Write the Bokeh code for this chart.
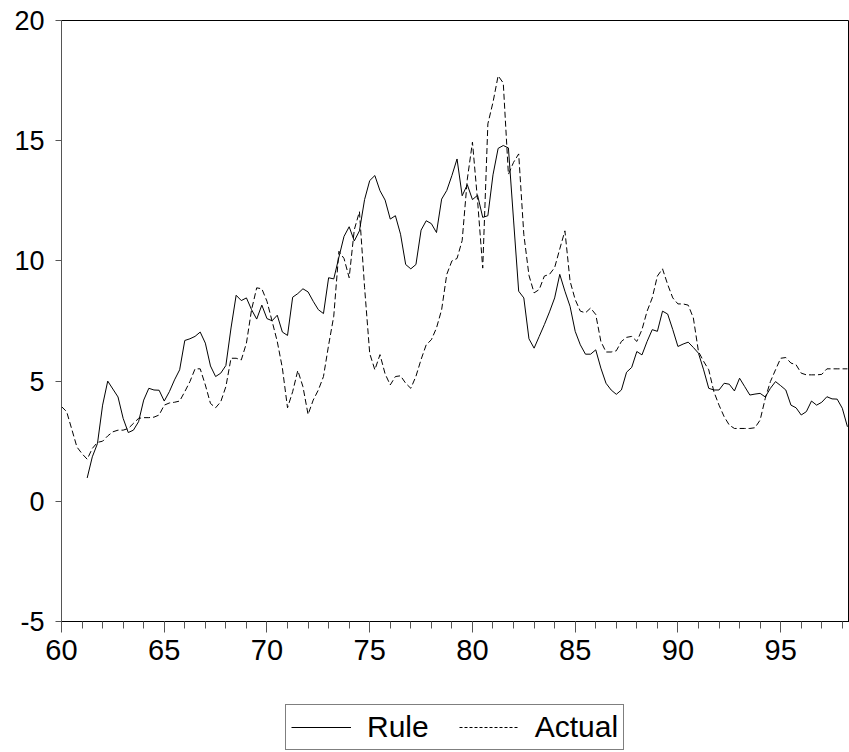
import numpy as np
from bokeh.plotting import figure
from bokeh.layouts import column
from bokeh.models import ColumnDataSource, FixedTicker, Legend, LegendItem, Range1d
from bokeh.embed import file_html
from bokeh.resources import INLINE

# Quarterly observations, 1960Q1 .. 1998Q2
start_year = 60
n_quarters = 154

rule = [None, None, None, None, None,
        0.97, 1.85, 2.40, 4.00, 5.00, 4.67, 4.34, 3.45, 2.86, 2.96,
        3.31, 4.21, 4.70, 4.63, 4.62, 4.17, 4.56, 5.05, 5.47, 6.69,
        6.76, 6.86, 7.04, 6.58, 5.63, 5.19, 5.33, 5.65, 7.21, 8.57,
        8.35, 8.46, 7.97, 7.58, 8.16, 7.60, 7.51, 7.74, 7.04, 6.90,
        8.49, 8.64, 8.84, 8.71, 8.32, 7.97, 7.81, 9.30, 9.25, 10.15,
        11.02, 11.42, 10.83, 11.25, 12.55, 13.34, 13.55, 12.92, 12.53, 11.74,
        11.88, 11.11, 9.85, 9.67, 9.85, 11.28, 11.67, 11.55, 11.18, 12.57,
        12.93, 13.55, 14.24, 12.71, 13.17, 12.55, 12.73, 11.81, 11.88, 13.58,
        14.68, 14.80, 14.70, 11.70, 8.74, 8.46, 6.76, 6.37, 6.86, 7.35,
        7.88, 8.46, 9.44, 8.74, 8.11, 7.07, 6.51, 6.12, 6.12, 6.30,
        5.54, 4.91, 4.63, 4.45, 4.63, 5.37, 5.57, 6.23, 6.09, 6.65,
        7.14, 7.07, 7.91, 7.79, 7.14, 6.44, 6.54, 6.62, 6.40, 6.16,
        5.47, 4.70, 4.63, 4.63, 4.91, 4.87, 4.59, 5.12, 4.77, 4.42,
        4.46, 4.49, 4.34, 4.70, 4.98, 4.81, 4.63, 4.00, 3.89, 3.59,
        3.73, 4.17, 4.00, 4.12, 4.35, 4.26, 4.25, 3.87, 3.10]

actual = [3.94, 3.73, 3.00, 2.26, 1.98, 1.75, 2.20, 2.45, 2.50, 2.72,
          2.89, 2.96, 2.96, 3.03, 3.24, 3.45, 3.48, 3.48, 3.50, 3.59,
          4.00, 4.09, 4.12, 4.17, 4.56, 4.98, 5.51, 5.51, 4.84, 4.07,
          3.89, 4.14, 4.77, 5.95, 5.95, 5.88, 6.58, 7.97, 8.88, 8.84,
          8.32, 7.49, 6.65, 5.54, 3.89, 4.56, 5.44, 4.77, 3.61, 4.21,
          4.63, 5.19, 6.50, 7.70, 10.40, 10.10, 9.30, 11.30, 12.05, 8.90,
          6.15, 5.47, 6.10, 5.30, 4.84, 5.19, 5.22, 4.91, 4.70, 5.20,
          5.90, 6.51, 6.72, 7.21, 7.97, 9.44, 10.00, 10.10, 10.85, 13.40,
          14.94, 12.50, 9.70, 15.70, 16.60, 17.70, 17.40, 13.60, 14.10, 14.45,
          11.10, 9.40, 8.67, 8.81, 9.37, 9.44, 9.72, 10.50, 11.25, 9.16,
          8.39, 7.91, 7.84, 8.04, 7.77, 6.65, 6.21, 6.21, 6.26, 6.65,
          6.82, 6.86, 6.65, 7.14, 7.91, 8.46, 9.37, 9.67, 9.02, 8.46,
          8.21, 8.21, 8.16, 7.63, 6.23, 5.82, 5.47, 4.56, 4.00, 3.52,
          3.17, 3.03, 3.03, 3.03, 3.03, 3.06, 3.38, 4.28, 4.98, 5.47,
          5.95, 5.98, 5.75, 5.68, 5.33, 5.26, 5.26, 5.26, 5.28, 5.51,
          5.51, 5.51, 5.51, 5.51]

series_names = ["Rule", "Actual"]
x_major_ticks = [60, 65, 70, 75, 80, 85, 90, 95]
y_major_ticks = [-5, 0, 5, 10, 15, 20]
y_tick_labels = {-5: "-5", 0: "0", 5: "5", 10: "10", 15: "15", 20: "20"}

xs = [start_year + i / 4.0 for i in range(n_quarters)]
src = ColumnDataSource(dict(
    x=xs,
    rule=[np.nan if v is None else v for v in rule],
    actual=actual,
))

FONT = "Liberation Sans"
DASH = "6 3"

# ---------------- main chart ----------------
p = figure(width=849, height=690, output_backend="svg", toolbar_location=None,
           x_range=Range1d(60, 98.35), y_range=Range1d(-5, 20),
           min_border_left=61, min_border_right=0, min_border_top=20,
           min_border_bottom=69)
p.background_fill_color = "white"
p.border_fill_color = "white"
p.outline_line_color = "black"
p.outline_line_width = 1
p.grid.visible = False

p.line("x", "rule", source=src, line_color="black", line_width=1)
p.line("x", "actual", source=src, line_color="black", line_width=1,
       line_dash=DASH)

xa = p.xaxis[0]
xa.ticker = FixedTicker(ticks=x_major_ticks, minor_ticks=list(range(60, 99)))
xa.major_tick_out = 11
xa.major_tick_in = 0
xa.minor_tick_out = 7
xa.minor_tick_in = 0
xa.major_label_standoff = 7
xa.major_label_text_font = FONT
xa.major_label_text_font_size = "29px"
xa.major_label_text_color = "black"
xa.axis_line_color = "black"
xa.major_tick_line_color = "#555555"
xa.minor_tick_line_color = "#555555"

ya = p.yaxis[0]
ya.ticker = FixedTicker(ticks=y_major_ticks, minor_ticks=[])
ya.major_label_overrides = y_tick_labels
ya.major_tick_out = 6
ya.major_tick_in = 0
ya.minor_tick_out = 0
ya.minor_tick_in = 0
ya.major_label_standoff = 11
ya.major_label_text_font = FONT
ya.major_label_text_font_size = "27px"
ya.major_label_text_color = "black"
ya.axis_line_color = "#555555"
ya.major_tick_line_color = "#555555"

# ---------------- legend strip (frame aligned with the chart's frame) -----
q = figure(width=849, height=62, output_backend="svg", toolbar_location=None,
           x_range=Range1d(0, 1), y_range=Range1d(0, 1),
           x_axis_type=None, y_axis_type=None,
           min_border_left=0, min_border_right=0, min_border_top=0,
           min_border_bottom=0)
q.outline_line_color = None
q.grid.visible = False
q.background_fill_color = "white"
q.border_fill_color = "white"
# same series, outside this strip's visible ranges: only their legend glyphs show
k1 = q.line("x", "rule", source=src, line_color="black", line_width=1)
k2 = q.line("x", "actual", source=src, line_color="black", line_width=1,
            line_dash="3 2")

legend = Legend(items=[LegendItem(label=series_names[0], renderers=[k1]),
                       LegendItem(label=series_names[1], renderers=[k2])],
                orientation="horizontal", location=(224, 2))
legend.label_text_font = FONT
legend.label_text_font_size = "30px"
legend.label_text_color = "black"
legend.glyph_width = 60
legend.glyph_height = 30
legend.label_standoff = 16
legend.spacing = 30
legend.padding = 5
legend.margin = 0
legend.border_line_color = "black"
legend.border_line_width = 1
legend.background_fill_alpha = 1
q.add_layout(legend, "center")

layout = column(p, q, spacing=0)
open("out.html", "w").write(file_html(layout, INLINE))
